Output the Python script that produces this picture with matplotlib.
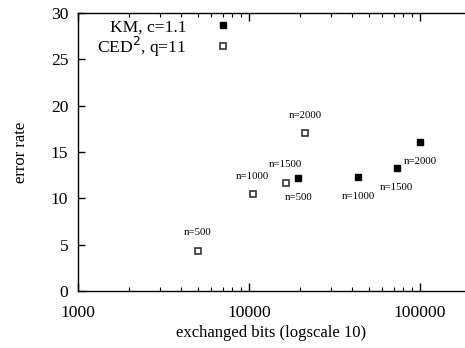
import matplotlib
matplotlib.use("Agg")
import matplotlib.pyplot as plt
from matplotlib.ticker import LogLocator, FixedLocator, NullFormatter

plt.rcParams['font.family'] = ['Liberation Serif', 'DejaVu Serif']

# KM, c=1.1 (filled squares)
km_bits = [19400, 43500, 73000, 100000]
km_err = [12.15, 12.25, 13.25, 16.05]
km_labels = ["n=500", "n=1000", "n=1500", "n=2000"]

# CED^2, q=11 (hollow squares)
ced_bits = [5000, 10500, 16400, 21200]
ced_err = [4.35, 10.45, 11.7, 17.0]
ced_labels = ["n=500", "n=1000", "n=1500", "n=2000"]

xticks = [1000, 10000, 100000]
yticks = [0, 5, 10, 15, 20, 25, 30]

fig = plt.figure(figsize=(4.65, 3.48), dpi=100)
ax = fig.add_axes([78/465, 1-291/348, (464.5-78)/465, (291-13)/348])

ax.plot(km_bits, km_err, linestyle='none', marker='s', markersize=4.8,
        color='black', label='KM, c=1.1')
ax.plot(ced_bits, ced_err, linestyle='none', marker='s', markersize=4.4,
        markerfacecolor='white', markeredgecolor='#333333', markeredgewidth=1.2,
        label='CED$^2$, q=11')

for x, y, t in zip(km_bits, km_err, km_labels):
    ax.annotate(t, (x, y), xytext=(0, -14), textcoords='offset points',
                ha='center', va='center', fontsize=7.8)
for x, y, t in zip(ced_bits, ced_err, ced_labels):
    ax.annotate(t, (x, y), xytext=(0, 13), textcoords='offset points',
                ha='center', va='center', fontsize=7.8)

ax.set_xscale('log')
ax.set_xlim(1000, 10 ** (3 + 386.5 / 171))
ax.set_ylim(0, 30)
ax.xaxis.set_major_locator(FixedLocator(xticks))
ax.set_xticklabels([str(v) for v in xticks])
ax.xaxis.set_minor_locator(LogLocator(base=10, subs=range(2, 10)))
ax.xaxis.set_minor_formatter(NullFormatter())
ax.set_yticks(yticks)

ax.spines['right'].set_visible(False)
for s in ['left', 'bottom', 'top']:
    ax.spines[s].set_linewidth(1.0)

ax.tick_params(axis='x', which='major', direction='in', length=6, width=1.0,
               top=True, bottom=True, labelsize=12.6, pad=10)
ax.tick_params(axis='x', which='minor', direction='in', length=3, width=0.8,
               top=True, bottom=True)
ax.tick_params(axis='y', which='major', direction='in', length=5, width=1.0,
               left=True, right=False, labelsize=12.6, pad=7)

ax.set_xlabel('exchanged bits (logscale 10)', fontsize=12, labelpad=3)
ax.set_ylabel('error rate', fontsize=12, labelpad=16)

leg = ax.legend(loc='upper left', bbox_to_anchor=(0.036, 0.997), markerfirst=False,
                frameon=False, fontsize=12.6, handlelength=1.0, handletextpad=1.6,
                labelspacing=-0.05, borderaxespad=0.1, borderpad=0.2)
fig.savefig('out.png', dpi=100)
